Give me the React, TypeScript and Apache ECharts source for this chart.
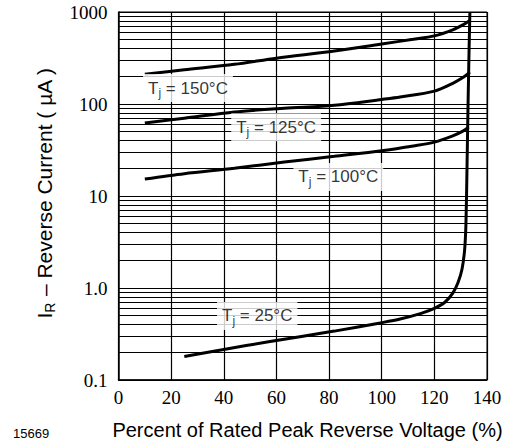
import React, { useEffect, useRef } from "react";
import * as echarts from "echarts";

// ---- data ----
const xTicks = [0, 20, 40, 60, 80, 100, 120, 140];
const yTickLabels = ["0.1", "1.0", "10", "100", "1000"];

const curve150: [number, number][] = [
  [10, 210], [25, 235], [44, 270], [60, 315], [82, 377], [100, 450],
  [112, 505], [120, 550], [127, 640], [131, 730], [133.5, 810],
];
const curve125: [number, number][] = [
  [10, 62], [25, 70], [44, 82], [63, 90], [82, 97], [100, 112], [107, 119],
  [120, 138], [127, 168], [131, 195], [133.5, 222],
];
const curve100: [number, number][] = [
  [10, 15.3], [25, 17.5], [44, 20], [63, 23.4], [82, 27], [100, 31],
  [112, 35], [120, 38.5], [127, 45], [131, 51], [133, 56],
];
const curve25: [number, number][] = [
  [25, 0.18], [40, 0.215], [57, 0.26], [82, 0.34], [100, 0.42], [107, 0.46],
  [115, 0.53], [120, 0.6], [124, 0.7], [127, 0.88], [129, 1.15], [130.5, 1.6],
  [131.5, 2.6], [132, 5], [132.4, 20], [132.8, 100], [133.2, 400], [133.5, 1000],
];

const curveLabels = ["150", "125", "100", "25"];
const labelPoints: [number, number][] = [
  [26.4, 149], [59.9, 56], [83.5, 16.1], [52.7, 0.497],
];

const decades = [0.1, 1, 10, 100];
const minorSteps = [2, 3, 4, 5, 6, 7, 8, 9];

export default function App() {
  const ref = useRef<HTMLDivElement>(null);

  useEffect(() => {
    if (!ref.current) return;
    const chart = echarts.init(ref.current, null, { renderer: "svg" });

    const minorLines: number[] = [];
    decades.forEach((d) => minorSteps.forEach((m) => minorLines.push(+(d * m).toPrecision(3))));

    const curveSeries = (data: [number, number][]) => ({
      type: "line",
      data,
      smooth: 0.3,
      showSymbol: false,
      symbol: "none",
      silent: true,
      z: 5,
      lineStyle: { color: "#000", width: 3 },
    });

    const sans = "'Liberation Sans', Arial, sans-serif";
    const serif = "'Liberation Serif', 'Times New Roman', serif";

    chart.setOption({
      animation: false,
      backgroundColor: "#fff",
      grid: {
        left: 118.5,
        right: 42,
        top: 12,
        bottom: 67,
        show: true,
        borderColor: "#000",
        borderWidth: 1,
        containLabel: false,
      },
      xAxis: {
        type: "value",
        min: xTicks[0],
        max: xTicks[xTicks.length - 1],
        interval: 20,
        axisLine: { show: true, lineStyle: { color: "#000", width: 1.5 } },
        axisTick: { show: false },
        axisLabel: {
          color: "#000",
          fontFamily: serif,
          fontSize: 19,
          margin: 8,
          formatter: (v: number) => String(v),
        },
        splitLine: { show: true, lineStyle: { color: "#000", width: 1.2 } },
      },
      yAxis: {
        type: "log",
        logBase: 10,
        min: 0.1,
        max: 1000,
        axisLine: { show: true, lineStyle: { color: "#000", width: 1.5 } },
        axisTick: { show: false },
        axisLabel: {
          color: "#000",
          fontFamily: serif,
          fontSize: 19,
          margin: 11,
          formatter: (v: number) => yTickLabels[Math.round(Math.log10(v)) + 1] ?? "",
        },
        splitLine: { show: true, lineStyle: { color: "#000", width: 1.2 } },
      },
      series: [
        {
          type: "line",
          name: "grid",
          data: [[0, 0.1]],
          showSymbol: false,
          symbol: "none",
          silent: true,
          lineStyle: { width: 0, opacity: 0 },
          z: 1,
          markLine: {
            silent: true,
            symbol: "none",
            animation: false,
            label: { show: false },
            lineStyle: { color: "#000", width: 1, type: "solid" },
            emphasis: { disabled: true },
            data: minorLines.map((v) => ({ yAxis: v })),
          },
        },
        curveSeries(curve150),
        curveSeries(curve125),
        curveSeries(curve100),
        curveSeries(curve25),
        {
          type: "scatter",
          data: labelPoints,
          symbolSize: 0,
          silent: true,
          z: 20,
          label: {
            show: true,
            position: "inside",
            backgroundColor: "#fff",
            padding: [3, 5, 3, 5],
            formatter: (p: any) => `{t|T}{s|j}{t| = ${curveLabels[p.dataIndex]}°C}`,
            rich: {
              t: { fontFamily: sans, fontSize: 17, color: "#000", lineHeight: 22 },
              s: {
                fontFamily: sans,
                fontSize: 12,
                color: "#000",
                lineHeight: 12,
                verticalAlign: "bottom",
              },
            },
          },
        },
      ],
      graphic: [
        {
          type: "text",
          x: 44,
          y: 193,
          rotation: Math.PI / 2,
          silent: true,
          style: {
            text: "{t|I}{s|R}{t| – Reverse Current ( µA )}",
            align: "center",
            verticalAlign: "middle",
            rich: {
              t: { fontFamily: sans, fontSize: 21, fill: "#000", lineHeight: 26 },
              s: {
                fontFamily: sans,
                fontSize: 14,
                fill: "#000",
                lineHeight: 12,
                verticalAlign: "bottom",
              },
            },
          },
        },
        {
          type: "text",
          x: 307.5,
          y: 430,
          silent: true,
          style: {
            text: "Percent of Rated Peak Reverse Voltage (%)",
            fontFamily: sans,
            fontSize: 20,
            fill: "#000",
            align: "center",
            verticalAlign: "middle",
          },
        },
        {
          type: "text",
          x: 13,
          y: 433,
          silent: true,
          style: {
            text: "15669",
            fontFamily: sans,
            fontSize: 13,
            fill: "#000",
            align: "left",
            verticalAlign: "middle",
          },
        },
      ],
    });

    return () => chart.dispose();
  }, []);

  return (
    <div
      ref={ref}
      style={{ position: "fixed", left: 0, top: 0, width: 529, height: 447 }}
    />
  );
}
